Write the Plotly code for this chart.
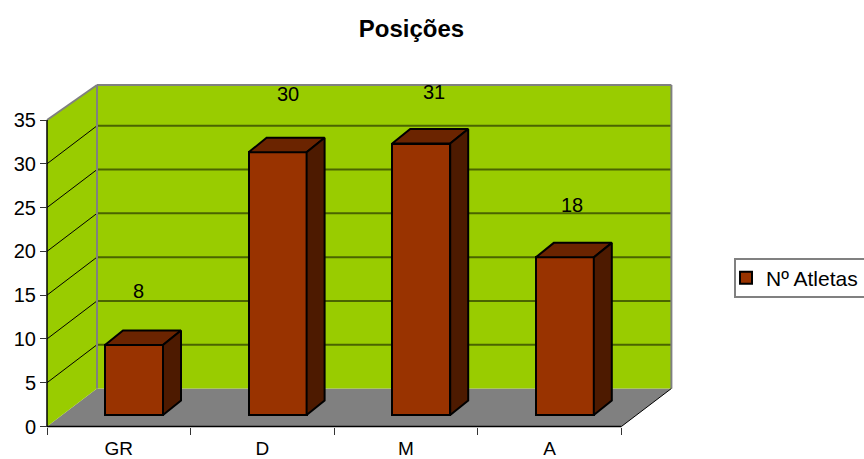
import plotly.graph_objects as go

# Chart data
categories = ["GR", "D", "M", "A"]
athletes = [8, 30, 31, 18]
y_ticks = [0, 5, 10, 15, 20, 25, 30, 35]
label_shift_x = [4, 10, 13, 7]
label_rise = [7.5, 8.0, 7.2, 7.3]

# Oblique projection: one category = 143.6 px, one y unit = 8.757 px
PX_X = 143.6
PX_Y = 8.757
WALL_DX = 50 / PX_X
WALL_DY = 38 / PX_Y
WALL_TOP_FRONT = 35
WALL_TOP_BACK = 341.5 / PX_Y
BAR_WIDTH = 58 / PX_X
BAR_INSET_X = 15.2 / PX_X
BAR_INSET_Y = 11.5 / PX_Y
BAR_DEPTH_X = 18 / PX_X
BAR_DEPTH_Y = 14.5 / PX_Y

# Plot area is padded around the walls so that their outlines are not clipped
LEFT, RIGHT, TOP, BOTTOM = 30, 690, 70, 444
ORIGIN_X, ORIGIN_Y = 47, 426.5
W, H = 864, 459
PLOT_W, PLOT_H = RIGHT - LEFT, BOTTOM - TOP
x_range = [(LEFT - ORIGIN_X) / PX_X, (RIGHT - ORIGIN_X) / PX_X]
y_range = [(ORIGIN_Y - BOTTOM) / PX_Y, (ORIGIN_Y - TOP) / PX_Y]
n = len(categories)

GREEN = "#99CC00"
GREY = "#808080"
BAR_FRONT = "#993300"
BAR_TOP = "#6B2400"
BAR_SIDE = "#4D1A00"
FONT = "Liberation Sans"
TEXT_SIZE = 20


def poly(points):
    return "M " + " L ".join(f"{x},{y}" for x, y in points) + " Z"


shapes = [
    # floor
    dict(type="path", path=poly([(0, 0), (n, 0), (n + WALL_DX, WALL_DY), (WALL_DX, WALL_DY)]),
         fillcolor=GREY, line=dict(width=0), layer="below"),
    # side wall
    dict(type="path", path=poly([(0, 0), (WALL_DX, WALL_DY), (WALL_DX, WALL_TOP_BACK), (0, WALL_TOP_FRONT)]),
         fillcolor=GREEN, line=dict(width=0), layer="below"),
    # back wall
    dict(type="path", path=poly([(WALL_DX, WALL_DY), (n + WALL_DX, WALL_DY), (n + WALL_DX, WALL_TOP_BACK), (WALL_DX, WALL_TOP_BACK)]),
         fillcolor=GREEN, line=dict(width=0), layer="below"),
    # legend frame, open on the right where it runs off the page
    dict(type="rect", xref="paper", yref="paper",
         x0=(735 - LEFT) / PLOT_W, x1=(880 - LEFT) / PLOT_W,
         y0=(BOTTOM - 297) / PLOT_H, y1=(BOTTOM - 259) / PLOT_H,
         fillcolor="#FFFFFF", line=dict(color=GREY, width=2), layer="below"),
]


def seg(x0, y0, x1, y1, color, width):
    return dict(type="line", x0=x0, y0=y0, x1=x1, y1=y1, layer="below",
                line=dict(color=color, width=width))


# gridlines on both walls
for v in y_ticks[1:-1]:
    shapes.append(seg(0, v, WALL_DX, v + WALL_DY, "#000000", 1))
    shapes.append(seg(WALL_DX, v + WALL_DY, n + WALL_DX, v + WALL_DY, "#4A6400", 2))

# wall outlines
shapes += [
    seg(0, WALL_TOP_FRONT, WALL_DX, WALL_TOP_BACK, GREY, 2),
    seg(WALL_DX, WALL_TOP_BACK, n + WALL_DX, WALL_TOP_BACK, GREY, 2),
    seg(WALL_DX, WALL_DY, WALL_DX, WALL_TOP_BACK, GREY, 2),
    seg(n + WALL_DX, WALL_DY, n + WALL_DX, WALL_TOP_BACK, GREY, 2),
    # axis lines and front floor edge
    seg(0, 0, 0, WALL_TOP_FRONT, "#000000", 1.5),
    seg(0, 0, n, 0, "#000000", 1.5),
    seg(n, 0, n + WALL_DX, WALL_DY, "#000000", 1),
]

fig = go.Figure()

bar_left = [i + 0.5 + BAR_INSET_X - BAR_WIDTH / 2 for i in range(n)]
bar_centre = [x + BAR_WIDTH / 2 for x in bar_left]

fig.add_trace(go.Bar(
    x=bar_centre, y=athletes, base=BAR_INSET_Y, width=BAR_WIDTH, name="Nº Atletas",
    marker=dict(color=BAR_FRONT, line=dict(color="#000000", width=2)),
    showlegend=True, hoverinfo="skip",
))

# top and side faces of each bar
for left, value in zip(bar_left, athletes):
    right = left + BAR_WIDTH
    top = BAR_INSET_Y + value
    fig.add_trace(go.Scatter(
        x=[left, right, right + BAR_DEPTH_X, left + BAR_DEPTH_X, left],
        y=[top, top, top + BAR_DEPTH_Y, top + BAR_DEPTH_Y, top],
        mode="lines", fill="toself", fillcolor=BAR_TOP,
        line=dict(color="#000000", width=2), showlegend=False, hoverinfo="skip",
    ))
    fig.add_trace(go.Scatter(
        x=[right, right + BAR_DEPTH_X, right + BAR_DEPTH_X, right, right],
        y=[BAR_INSET_Y, BAR_INSET_Y + BAR_DEPTH_Y, top + BAR_DEPTH_Y, top, BAR_INSET_Y],
        mode="lines", fill="toself", fillcolor=BAR_SIDE,
        line=dict(color="#000000", width=2), showlegend=False, hoverinfo="skip",
    ))

# value labels
annotations = [
    dict(x=c, y=v + r, text=str(v), xref="x", yref="y", showarrow=False,
         xshift=s, font=dict(family=FONT, size=TEXT_SIZE, color="#000000"))
    for c, v, r, s in zip(bar_centre, athletes, label_rise, label_shift_x)
]

# axis that only carries the category boundary ticks
fig.add_trace(go.Scatter(x=[0], y=[0], xaxis="x2", mode="markers", marker=dict(opacity=0),
                         showlegend=False, hoverinfo="skip"))

frac_x = (ORIGIN_X - LEFT) / PLOT_W
frac_y = (BOTTOM - ORIGIN_Y) / PLOT_H

fig.update_layout(
    width=W, height=H,
    paper_bgcolor="#FFFFFF", plot_bgcolor="rgba(0,0,0,0)",
    margin=dict(l=LEFT, r=W - RIGHT, t=TOP, b=H - BOTTOM, autoexpand=False),
    font=dict(family=FONT, size=TEXT_SIZE, color="#000000"),
    title=dict(text="<b>Posições</b>", x=411.5 / W, xanchor="center", xref="container",
               y=1 - 29 / H, yanchor="middle", yref="container",
               font=dict(family=FONT, size=24, color="#000000")),
    xaxis=dict(range=x_range, anchor="free", position=frac_y, showgrid=False, zeroline=False,
               showline=False, tickmode="array",
               tickvals=[i + 0.5 for i in range(n)], ticktext=categories, ticks="",
               ticklabelstandoff=8, tickfont=dict(size=19)),
    xaxis2=dict(range=x_range, overlaying="x", anchor="free", position=frac_y, side="bottom",
                showgrid=False, zeroline=False, showline=False, tickmode="array",
                tickvals=list(range(n + 1)), ticktext=[""] * (n + 1), ticks="outside",
                ticklen=7, tickwidth=1, tickcolor="#333333"),
    yaxis=dict(range=y_range, anchor="free", position=frac_x, showgrid=False, zeroline=False,
               showline=False, tickmode="array", tickvals=y_ticks, ticks="outside",
               ticklen=7, tickwidth=1, tickcolor="#333333", ticklabelstandoff=0,
               tickfont=dict(size=TEXT_SIZE)),
    legend=dict(x=(726 - LEFT) / PLOT_W, xanchor="left", y=(BOTTOM - 278) / PLOT_H, yanchor="middle",
                bgcolor="rgba(0,0,0,0)", borderwidth=0,
                font=dict(family=FONT, size=21, color="#000000")),
    shapes=shapes, annotations=annotations, bargap=0, showlegend=True,
)

fig.write_html("out.html")
